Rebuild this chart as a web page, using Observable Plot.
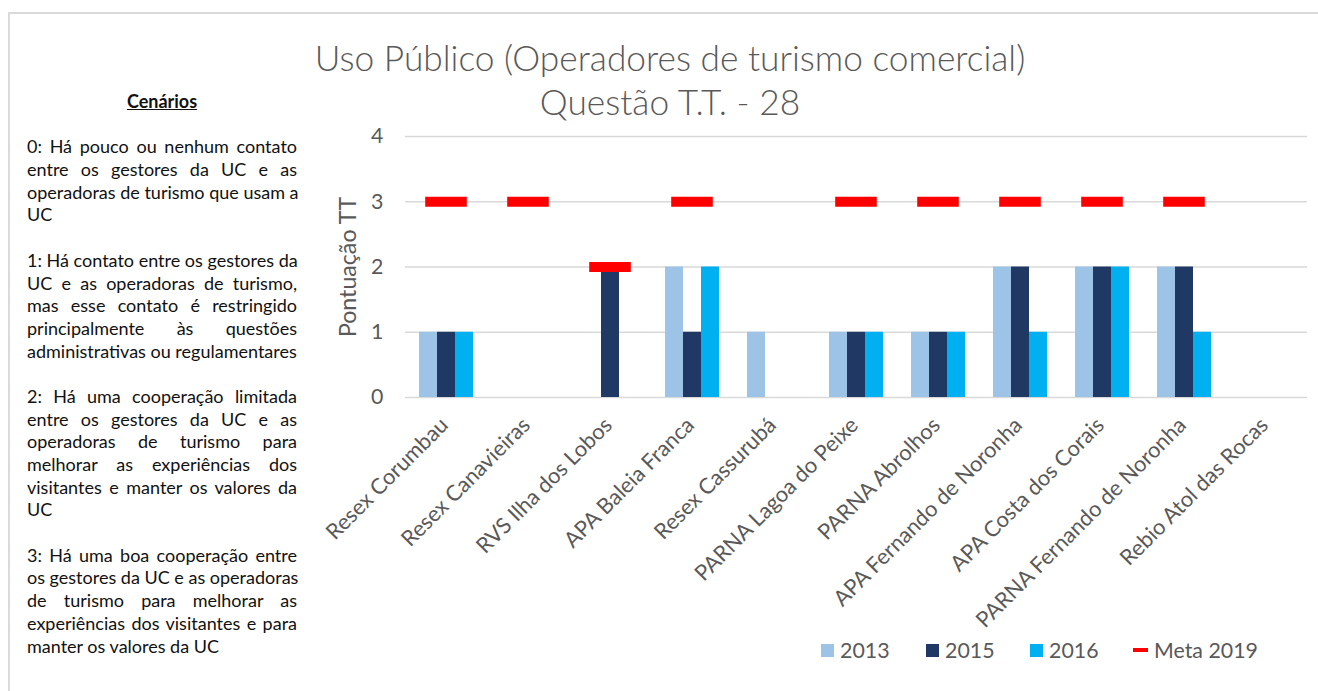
<!DOCTYPE html>
<html>
<head>
<meta charset="utf-8">
<script src="https://cdn.jsdelivr.net/npm/d3@7"></script>
<script src="https://cdn.jsdelivr.net/npm/@observablehq/plot@0.6"></script>
<style>
  html, body { margin: 0; padding: 0; background: #fff; }
  #wrap { position: relative; width: 1318px; height: 691px; overflow: hidden; font-family: Lato, "Open Sans", sans-serif; }
  #frame { position: absolute; left: 8px; top: 12px; width: 1320px; height: 700px; border-left: 2px solid #DADADA; border-top: 2px solid #DADADA; }
  #chart { position: absolute; left: 0; top: 0; }
  #title { position: absolute; left: 0; width: 1340px; top: 36px; text-align: center; color: #595959; font-weight: 300; }
  #title div { line-height: 44px; }
  #side { position: absolute; left: 27px; width: 270px; top: 90px; color: #111; }
  #side .ln { height: 22.7px; line-height: 22.7px; white-space: nowrap; }
  #side .j { text-align: justify; text-align-last: justify; }
  #side .head { text-align: center; font-weight: bold; text-decoration: underline; }
  #ylab { position: absolute; left: 347px; top: 267px; transform: translate(-50%, -50%) rotate(-90deg); color: #595959; white-space: nowrap; }
  .leg { position: absolute; top: 650px; transform: translateY(-50%); color: #595959; white-space: nowrap; display: flex; align-items: center; }
  .sw { display: inline-block; width: 13px; height: 13px; margin-right: 6px; }
  .ln-sw { display: inline-block; width: 15px; height: 4px; margin-right: 6px; }
</style>
</head>
<body>
<div id="wrap">
  <div id="frame"></div>
  <div id="chart"></div>
  <div id="title"></div>
  <div id="side"></div>
  <div id="ylab"></div>
  <div id="legend"></div>
</div>
<script>
// ---------- data ----------
const categories = [
  "Resex Corumbau", "Resex Canavieiras", "RVS Ilha dos Lobos", "APA Baleia Franca",
  "Resex Cassurubá", "PARNA Lagoa do Peixe", "PARNA Abrolhos", "APA Fernando de Noronha",
  "APA Costa dos Corais", "PARNA Fernando de Noronha", "Rebio Atol das Rocas"
];
const years = ["2013", "2015", "2016"];
const v2013 = [1, null, null, 2, 1, 1, 1, 2, 2, 2, null];
const v2015 = [1, null, 2, 1, null, 1, 1, 2, 2, 2, null];
const v2016 = [1, null, null, 2, null, 1, 1, 1, 2, 1, null];
const meta2019 = [3, 3, 2, 3, null, 3, 3, 3, 3, 3, null];
const metaLabel = "Meta 2019";
const yTicks = [0, 1, 2, 3, 4];
const yLabel = "Pontuação TT";
const titleLines = ["Uso Público (Operadores de turismo comercial)", "Questão T.T. - 28"];
const sideHeading = "Cenários";
const sideParagraphs = [
  ["0: Há pouco ou nenhum contato", "entre os gestores da UC e as", "operadoras de turismo que usam a", "UC"],
  ["1: Há contato entre os gestores da", "UC e as operadoras de turismo,", "mas esse contato é restringido", "principalmente às questões", "administrativas ou regulamentares"],
  ["2: Há uma cooperação limitada", "entre os gestores da UC e as", "operadoras de turismo para", "melhorar as experiências dos", "visitantes e manter os valores da", "UC"],
  ["3: Há uma boa cooperação entre", "os gestores da UC e as operadoras", "de turismo para melhorar as", "experiências dos visitantes e para", "manter os valores da UC"]
];
const yearColors = ["#9DC3E6", "#203864", "#00B0F0"];
const metaColor = "#FF0000";

// ---------- font fitting ----------
const ctx = document.createElement("canvas").getContext("2d");
function fit(text, weight, target) {
  ctx.font = `${weight} 100px Lato`;
  return 100 * target / ctx.measureText(text).width;
}
const titleSize = fit(titleLines[0], 300, 711);
const sideSize = fit("administrativas ou regulamentares", 400, 270);
const legSize = fit(metaLabel, 400, 104);
const xLabSize = fit("Resex Corumbau", 400, 162);
const yLabSize = fit(yLabel, 400, 141);

// ---------- tables ----------
const seriesVals = [v2013, v2015, v2016];
const bars = [];
categories.forEach((c, i) => years.forEach((y, j) => {
  const v = seriesVals[j][i];
  if (v != null) bars.push({cat: c, year: y, value: v});
}));
const metas = categories.map((c, i) => ({cat: c, value: meta2019[i]})).filter(d => d.value != null);

// ---------- chart ----------
const chart = Plot.plot({
  width: 1318, height: 691,
  marginLeft: 403, marginRight: 9, marginTop: 136, marginBottom: 294,
  style: {fontFamily: "Lato, sans-serif", color: "#595959", background: "transparent"},
  fx: {domain: categories, padding: 0, axis: null, label: null},
  x: {domain: years, paddingInner: 0, paddingOuter: 0.75, axis: null, label: null},
  y: {domain: [0, 4], axis: null, label: null},
  color: {domain: years, range: yearColors},
  marks: [
    Plot.gridY(yTicks, {stroke: "#D9D9D9", strokeOpacity: 1, strokeWidth: 1.6}),
    Plot.axisY(yTicks, {tickSize: 0, tickPadding: 22, fontSize: legSize, tickFormat: d => String(d), fill: "#595959", label: null}),
    Plot.barY(bars, {fx: "cat", x: "year", y: "value", fill: "year"}),
    Plot.tickY(metas, {fx: "cat", y: "value", stroke: metaColor, strokeWidth: 10, insetLeft: 20.2, insetRight: 20.2}),
    Plot.text(categories, {fx: d => d, text: d => d, frameAnchor: "bottom", rotate: -45, textAnchor: "end", lineAnchor: "top", dx: -8, dy: 18, fontSize: xLabSize, fill: "#595959"})
  ]
});
document.getElementById("chart").appendChild(chart);

// ---------- title ----------
const title = document.getElementById("title");
title.style.fontSize = titleSize + "px";
titleLines.forEach(t => { const d = document.createElement("div"); d.textContent = t; title.appendChild(d); });

// ---------- side text ----------
const side = document.getElementById("side");
side.style.fontSize = sideSize + "px";
function addLine(text, cls) { const d = document.createElement("div"); d.className = "ln " + (cls || ""); d.textContent = text; side.appendChild(d); }
addLine(sideHeading, "head");
sideParagraphs.forEach(p => {
  addLine("\u00a0");
  p.forEach((t, k) => addLine(t, k < p.length - 1 ? "j" : ""));
});

// ---------- y label ----------
const yl = document.getElementById("ylab");
yl.textContent = yLabel;
yl.style.fontSize = yLabSize + "px";

// ---------- legend ----------
const legend = document.getElementById("legend");
const legX = [821, 926, 1030];
years.forEach((y, j) => {
  const it = document.createElement("div");
  it.className = "leg"; it.style.left = legX[j] + "px"; it.style.fontSize = legSize + "px";
  it.innerHTML = `<span class="sw" style="background:${yearColors[j]}"></span><span>${y}</span>`;
  legend.appendChild(it);
});
const mi = document.createElement("div");
mi.className = "leg"; mi.style.left = "1133px"; mi.style.fontSize = legSize + "px";
mi.innerHTML = `<span class="ln-sw" style="background:${metaColor}"></span><span>${metaLabel}</span>`;
legend.appendChild(mi);
</script>
</body>
</html>
